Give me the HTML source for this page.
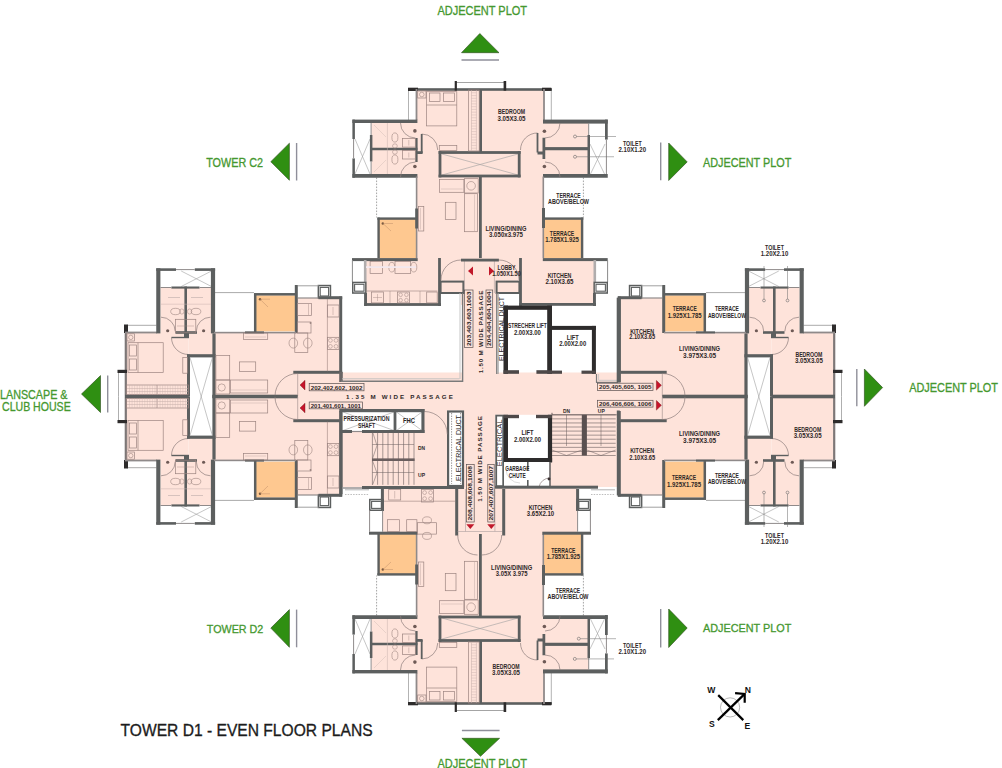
<!DOCTYPE html>
<html><head><meta charset="utf-8"><style>
html,body{margin:0;padding:0;background:#fff;}
svg{display:block;font-family:"Liberation Sans",sans-serif;}
</style></head><body>
<svg width="1002" height="768" viewBox="0 0 1002 768">
<rect width="1002" height="768" fill="#ffffff"/>
<rect x="297.00" y="372.50" width="366.00" height="47.50" fill="#fee3da" />
<rect x="463.00" y="293.00" width="34.00" height="89.00" fill="#fee3da" />
<rect x="341.00" y="410.00" width="123.00" height="77.00" fill="#fee3da" />
<rect x="464.00" y="410.00" width="40.00" height="77.00" fill="#fee3da" />
<rect x="504.00" y="414.80" width="114.00" height="72.20" fill="#fee3da" />
<defs><g id="tw">
<rect x="416.00" y="89.00" width="128.00" height="64.00" fill="#fee3da" />
<rect x="371.50" y="123.00" width="44.50" height="52.50" fill="#fee3da" />
<rect x="544.00" y="123.00" width="44.50" height="52.50" fill="#fee3da" />
<rect x="416.00" y="153.00" width="128.00" height="106.60" fill="#fee3da" />
<rect x="378.00" y="218.50" width="38.00" height="41.10" fill="#fec890" />
<rect x="543.00" y="218.50" width="39.00" height="41.10" fill="#fec890" />
<line x1="408.50" y1="89.00" x2="408.50" y2="120.00" stroke="#a0a0a0" stroke-width="0.8" />
<line x1="551.30" y1="89.00" x2="551.30" y2="120.00" stroke="#a0a0a0" stroke-width="0.8" />
<line x1="355.00" y1="139.00" x2="370.00" y2="174.00" stroke="#a0a0a0" stroke-width="0.6" />
<line x1="355.00" y1="174.00" x2="370.00" y2="139.00" stroke="#a0a0a0" stroke-width="0.6" />
<line x1="590.00" y1="144.00" x2="605.00" y2="175.00" stroke="#a0a0a0" stroke-width="0.6" />
<line x1="590.00" y1="175.00" x2="605.00" y2="144.00" stroke="#a0a0a0" stroke-width="0.6" />
<line x1="442.00" y1="154.00" x2="518.00" y2="175.00" stroke="#a0a0a0" stroke-width="0.6" />
<line x1="442.00" y1="175.00" x2="518.00" y2="154.00" stroke="#a0a0a0" stroke-width="0.6" />
<line x1="456.00" y1="82.50" x2="504.00" y2="82.50" stroke="#9a9a9a" stroke-width="0.9" />
<line x1="376.60" y1="177.50" x2="376.60" y2="217.50" stroke="#666" stroke-width="0.6" stroke-dasharray="1.6,1.4"/>
<line x1="583.40" y1="177.50" x2="583.40" y2="217.50" stroke="#666" stroke-width="0.6" stroke-dasharray="1.6,1.4"/>
<rect x="408.00" y="88.20" width="144.00" height="2.60" fill="#5c5f5f" />
<rect x="408.00" y="87.70" width="10.00" height="3.30" fill="#2e2c2c" />
<rect x="542.00" y="87.70" width="9.30" height="3.20" fill="#2e2c2c" />
<rect x="454.70" y="81.00" width="2.20" height="9.70" fill="#2e2c2c" />
<rect x="503.60" y="81.00" width="2.60" height="9.70" fill="#2e2c2c" />
<rect x="415.60" y="89.00" width="1.80" height="31.00" fill="#8f8a8a" />
<rect x="543.10" y="89.00" width="1.80" height="31.00" fill="#8f8a8a" />
<rect x="479.20" y="89.00" width="2.80" height="64.00" fill="#5c5f5f" />
<rect x="352.40" y="119.60" width="65.00" height="3.40" fill="#5c5f5f" />
<rect x="352.40" y="119.60" width="2.50" height="19.40" fill="#5c5f5f" />
<rect x="352.40" y="158.40" width="2.50" height="19.35" fill="#5c5f5f" />
<line x1="353.60" y1="139.00" x2="353.60" y2="158.40" stroke="#8f8a8a" stroke-width="1" />
<rect x="369.90" y="135.00" width="2.50" height="26.50" fill="#5c5f5f" />
<line x1="371.10" y1="123.00" x2="371.10" y2="135.00" stroke="#8f8a8a" stroke-width="1" />
<line x1="371.10" y1="161.50" x2="371.10" y2="174.00" stroke="#8f8a8a" stroke-width="1" />
<rect x="372.00" y="147.75" width="45.40" height="2.50" fill="#5c5f5f" />
<rect x="352.40" y="174.00" width="65.00" height="3.75" fill="#5c5f5f" />
<rect x="415.30" y="138.00" width="2.30" height="24.00" fill="#5c5f5f" />
<line x1="387.40" y1="123.00" x2="387.40" y2="174.00" stroke="#c9b3af" stroke-width="0.5" />
<ellipse cx="394.90" cy="137.50" rx="3.00" ry="4.60" fill="none" stroke="#9c8480" stroke-width="0.6"/>
<ellipse cx="394.90" cy="159.50" rx="3.00" ry="4.60" fill="none" stroke="#9c8480" stroke-width="0.6"/>
<ellipse cx="394.90" cy="146.00" rx="2.40" ry="2.20" fill="none" stroke="#9c8480" stroke-width="0.5"/>
<ellipse cx="394.90" cy="152.00" rx="2.40" ry="2.20" fill="none" stroke="#9c8480" stroke-width="0.5"/>
<rect x="402.40" y="138.40" width="12.90" height="8.70" fill="none" stroke="#9c8480" stroke-width="0.7"/>
<rect x="402.40" y="150.60" width="12.90" height="8.40" fill="none" stroke="#9c8480" stroke-width="0.7"/>
<line x1="408.80" y1="140.00" x2="408.80" y2="145.50" stroke="#9c8480" stroke-width="0.4" />
<line x1="408.80" y1="152.50" x2="408.80" y2="157.50" stroke="#9c8480" stroke-width="0.4" />
<path d="M400.5,123 A15,15 0 0 0 415.5,138" fill="none" stroke="#8c7d7b" stroke-width="0.7" />
<path d="M400.5,177 A15,15 0 0 1 415.5,162" fill="none" stroke="#8c7d7b" stroke-width="0.7" />
<circle cx="414.90" cy="130.90" r="1.80" fill="#6e5a56"/>
<circle cx="414.90" cy="166.50" r="1.80" fill="#6e5a56"/>
<line x1="374.00" y1="125.00" x2="386.00" y2="137.00" stroke="#cbb5b1" stroke-width="0.4" />
<line x1="374.00" y1="172.00" x2="386.00" y2="160.00" stroke="#cbb5b1" stroke-width="0.4" />
<rect x="543.00" y="119.60" width="64.75" height="4.00" fill="#5c5f5f" />
<rect x="605.00" y="119.60" width="2.75" height="20.00" fill="#5c5f5f" />
<line x1="606.40" y1="139.60" x2="606.40" y2="174.00" stroke="#8f8a8a" stroke-width="1" />
<rect x="587.50" y="135.00" width="2.50" height="39.00" fill="#5c5f5f" />
<line x1="588.70" y1="123.00" x2="588.70" y2="135.00" stroke="#8f8a8a" stroke-width="1" />
<rect x="545.00" y="147.10" width="45.00" height="3.15" fill="#5c5f5f" />
<rect x="543.00" y="174.00" width="64.75" height="3.75" fill="#5c5f5f" />
<rect x="542.50" y="137.75" width="2.75" height="21.25" fill="#5c5f5f" />
<path d="M560,123 A15,15 0 0 1 545,138" fill="none" stroke="#8c7d7b" stroke-width="0.7" />
<path d="M560,177 A15,15 0 0 0 545,162" fill="none" stroke="#8c7d7b" stroke-width="0.7" />
<circle cx="544.40" cy="131.25" r="1.80" fill="#6e5a56"/>
<circle cx="544.40" cy="166.50" r="1.80" fill="#6e5a56"/>
<path d="M421.75,134 A16,16 0 0 1 437.75,150" fill="none" stroke="#8c7d7b" stroke-width="0.7" />
<rect x="420.80" y="134.00" width="1.80" height="19.00" fill="#5c5f5f" />
<rect x="417.00" y="151.20" width="5.60" height="2.80" fill="#5c5f5f" />
<path d="M537.5,133 A17,17 0 0 0 520.5,150" fill="none" stroke="#8c7d7b" stroke-width="0.7" />
<rect x="536.60" y="133.00" width="1.80" height="19.50" fill="#5c5f5f" />
<rect x="537.50" y="151.50" width="7.50" height="3.00" fill="#5c5f5f" />
<rect x="438.60" y="151.10" width="82.00" height="2.80" fill="#5c5f5f" />
<rect x="438.60" y="174.60" width="82.00" height="2.80" fill="#5c5f5f" />
<rect x="438.60" y="151.00" width="2.80" height="26.40" fill="#5c5f5f" />
<rect x="517.80" y="151.00" width="2.80" height="26.40" fill="#5c5f5f" />
<rect x="479.00" y="176.50" width="2.80" height="83.10" fill="#5c5f5f" />
<rect x="415.80" y="176.50" width="1.60" height="83.10" fill="#8f8a8a" />
<rect x="542.50" y="176.50" width="1.60" height="83.10" fill="#8f8a8a" />
<rect x="415.20" y="208.50" width="2.80" height="20.00" fill="#5c5f5f" />
<rect x="542.00" y="208.00" width="3.00" height="20.00" fill="#5c5f5f" />
<rect x="377.40" y="217.60" width="2.40" height="42.00" fill="#5c5f5f" />
<rect x="377.40" y="217.40" width="39.60" height="2.40" fill="#5c5f5f" />
<rect x="580.90" y="217.60" width="2.40" height="42.00" fill="#5c5f5f" />
<rect x="543.00" y="217.40" width="40.30" height="2.40" fill="#5c5f5f" />
<circle cx="382.80" cy="223.50" r="1.20" fill="#7a5a40"/>
<line x1="383.00" y1="223.50" x2="393.00" y2="223.50" stroke="#b08060" stroke-width="0.4" />
<line x1="383.00" y1="223.50" x2="391.00" y2="231.00" stroke="#b08060" stroke-width="0.4" />
<rect x="417.70" y="91.00" width="8.30" height="7.00" fill="none" stroke="#9c8480" stroke-width="0.7"/>
<circle cx="421.80" cy="94.50" r="2.30" fill="none" stroke="#9c8480" stroke-width="0.6"/>
<rect x="426.50" y="91.70" width="30.30" height="34.20" fill="none" stroke="#9c8480" stroke-width="0.7"/>
<line x1="426.50" y1="105.00" x2="456.80" y2="105.00" stroke="#9c8480" stroke-width="0.7" />
<rect x="429.60" y="93.00" width="10.40" height="8.50" fill="none" stroke="#9c8480" stroke-width="0.7"/>
<rect x="443.50" y="93.00" width="10.90" height="8.50" fill="none" stroke="#9c8480" stroke-width="0.7"/>
<rect x="468.40" y="90.00" width="10.80" height="61.00" fill="none" stroke="#9c8480" stroke-width="0.7"/>
<line x1="471.50" y1="90.00" x2="471.50" y2="150.50" stroke="#c4aca8" stroke-width="0.5" />
<line x1="476.40" y1="90.00" x2="476.40" y2="150.50" stroke="#c4aca8" stroke-width="0.5" />
<line x1="471.50" y1="92.77" x2="476.40" y2="92.77" stroke="#c4aca8" stroke-width="0.4" />
<line x1="471.50" y1="95.55" x2="476.40" y2="95.55" stroke="#c4aca8" stroke-width="0.4" />
<line x1="471.50" y1="98.32" x2="476.40" y2="98.32" stroke="#c4aca8" stroke-width="0.4" />
<line x1="471.50" y1="101.09" x2="476.40" y2="101.09" stroke="#c4aca8" stroke-width="0.4" />
<line x1="471.50" y1="103.86" x2="476.40" y2="103.86" stroke="#c4aca8" stroke-width="0.4" />
<line x1="471.50" y1="106.64" x2="476.40" y2="106.64" stroke="#c4aca8" stroke-width="0.4" />
<line x1="471.50" y1="109.41" x2="476.40" y2="109.41" stroke="#c4aca8" stroke-width="0.4" />
<line x1="471.50" y1="112.18" x2="476.40" y2="112.18" stroke="#c4aca8" stroke-width="0.4" />
<line x1="471.50" y1="114.95" x2="476.40" y2="114.95" stroke="#c4aca8" stroke-width="0.4" />
<line x1="471.50" y1="117.73" x2="476.40" y2="117.73" stroke="#c4aca8" stroke-width="0.4" />
<line x1="471.50" y1="120.50" x2="476.40" y2="120.50" stroke="#c4aca8" stroke-width="0.4" />
<line x1="471.50" y1="123.27" x2="476.40" y2="123.27" stroke="#c4aca8" stroke-width="0.4" />
<line x1="471.50" y1="126.05" x2="476.40" y2="126.05" stroke="#c4aca8" stroke-width="0.4" />
<line x1="471.50" y1="128.82" x2="476.40" y2="128.82" stroke="#c4aca8" stroke-width="0.4" />
<line x1="471.50" y1="131.59" x2="476.40" y2="131.59" stroke="#c4aca8" stroke-width="0.4" />
<line x1="471.50" y1="134.36" x2="476.40" y2="134.36" stroke="#c4aca8" stroke-width="0.4" />
<line x1="471.50" y1="137.14" x2="476.40" y2="137.14" stroke="#c4aca8" stroke-width="0.4" />
<line x1="471.50" y1="139.91" x2="476.40" y2="139.91" stroke="#c4aca8" stroke-width="0.4" />
<line x1="471.50" y1="142.68" x2="476.40" y2="142.68" stroke="#c4aca8" stroke-width="0.4" />
<line x1="471.50" y1="145.45" x2="476.40" y2="145.45" stroke="#c4aca8" stroke-width="0.4" />
<line x1="471.50" y1="148.23" x2="476.40" y2="148.23" stroke="#c4aca8" stroke-width="0.4" />
<rect x="439.30" y="145.50" width="17.50" height="4.90" fill="none" stroke="#9c8480" stroke-width="0.7"/>
<rect x="439.60" y="179.40" width="24.30" height="12.90" fill="none" stroke="#9c8480" stroke-width="0.7"/>
<line x1="441.00" y1="189.00" x2="462.50" y2="189.00" stroke="#c4aca8" stroke-width="0.5" />
<rect x="464.60" y="178.70" width="13.60" height="14.30" fill="none" stroke="#9c8480" stroke-width="0.7"/>
<circle cx="471.10" cy="185.80" r="4.30" fill="none" stroke="#9c8480" stroke-width="0.6"/>
<rect x="464.60" y="193.70" width="12.90" height="38.00" fill="none" stroke="#9c8480" stroke-width="0.7"/>
<line x1="474.50" y1="194.50" x2="474.50" y2="231.00" stroke="#c4aca8" stroke-width="0.5" />
<rect x="445.30" y="202.30" width="10.70" height="17.20" fill="none" stroke="#9c8480" stroke-width="0.7"/>
<rect x="418.60" y="206.60" width="5.20" height="24.40" fill="none" stroke="#9c8480" stroke-width="0.7"/>
<line x1="420.50" y1="208.00" x2="420.50" y2="229.50" stroke="#c4aca8" stroke-width="0.5" />
</g></defs>
<use href="#tw"/><use href="#tw" transform="translate(0,793) scale(1,-1)"/>
<circle cx="575.00" cy="136.50" r="1.50" fill="none" stroke="#6a6a6a" stroke-width="0.6"/>
<line x1="576.50" y1="136.50" x2="616.00" y2="136.50" stroke="#6a6a6a" stroke-width="0.5" />
<circle cx="575.00" cy="156.75" r="1.50" fill="none" stroke="#6a6a6a" stroke-width="0.6"/>
<line x1="576.50" y1="156.75" x2="614.00" y2="156.75" stroke="#6a6a6a" stroke-width="0.5" />
<circle cx="578.80" cy="638.70" r="1.50" fill="none" stroke="#6a6a6a" stroke-width="0.6"/>
<line x1="580.30" y1="638.70" x2="616.00" y2="638.70" stroke="#6a6a6a" stroke-width="0.5" />
<circle cx="574.80" cy="658.90" r="1.50" fill="none" stroke="#6a6a6a" stroke-width="0.6"/>
<line x1="576.30" y1="658.90" x2="614.00" y2="658.90" stroke="#6a6a6a" stroke-width="0.5" />
<rect x="365.00" y="258.00" width="75.00" height="46.50" fill="#fee3da" />
<rect x="440.00" y="258.00" width="24.00" height="35.00" fill="#fee3da" />
<rect x="461.00" y="258.00" width="37.00" height="47.00" fill="#fee3da" />
<rect x="496.00" y="258.00" width="24.00" height="35.00" fill="#fee3da" />
<rect x="520.00" y="258.00" width="75.00" height="46.50" fill="#fee3da" />
<rect x="352.00" y="258.10" width="65.70" height="3.00" fill="#5c5f5f" />
<rect x="542.80" y="258.10" width="64.90" height="3.00" fill="#5c5f5f" />
<line x1="352.40" y1="260.00" x2="352.40" y2="282.00" stroke="#8a8a8a" stroke-width="1.0" />
<rect x="363.90" y="260.00" width="2.60" height="22.00" fill="#b0adad" />
<rect x="352.75" y="282.45" width="13.10" height="10.60" fill="none" stroke="#5c5f5f" stroke-width="1.5"/>
<rect x="354.60" y="284.30" width="9.40" height="6.90" fill="none" stroke="#5c5f5f" stroke-width="1.1"/>
<rect x="364.30" y="293.00" width="2.60" height="13.00" fill="#5c5f5f" />
<rect x="364.30" y="293.00" width="2.60" height="13.00" fill="#5c5f5f" />
<rect x="364.30" y="303.10" width="76.70" height="2.80" fill="#5c5f5f" />
<rect x="438.10" y="258.00" width="2.80" height="48.00" fill="#5c5f5f" />
<rect x="440.60" y="281.60" width="22.80" height="11.40" fill="none" stroke="#5c5f5f" stroke-width="2.0"/>
<line x1="464.40" y1="261.00" x2="464.40" y2="293.00" stroke="#b8a8a6" stroke-width="0.7" />
<line x1="494.40" y1="261.00" x2="494.40" y2="293.00" stroke="#b8a8a6" stroke-width="0.7" />
<rect x="461.00" y="258.70" width="37.90" height="2.80" fill="#5c5f5f" />
<path d="M441,280 A20,20 0 0 1 461,260" fill="none" stroke="#8c7d7b" stroke-width="0.7" />
<path d="M519,280 A20,20 0 0 0 499,260" fill="none" stroke="#8c7d7b" stroke-width="0.7" />
<line x1="607.60" y1="260.00" x2="607.60" y2="282.00" stroke="#8a8a8a" stroke-width="1.0" />
<rect x="593.50" y="260.00" width="2.60" height="22.00" fill="#b0adad" />
<rect x="594.15" y="282.45" width="13.10" height="10.60" fill="none" stroke="#5c5f5f" stroke-width="1.5"/>
<rect x="596.00" y="284.30" width="9.40" height="6.90" fill="none" stroke="#5c5f5f" stroke-width="1.1"/>
<rect x="593.10" y="293.00" width="2.60" height="13.00" fill="#5c5f5f" />
<rect x="593.10" y="293.00" width="2.60" height="13.00" fill="#5c5f5f" />
<rect x="519.00" y="303.00" width="77.00" height="2.80" fill="#5c5f5f" />
<rect x="519.10" y="258.00" width="2.80" height="48.00" fill="#5c5f5f" />
<rect x="496.60" y="281.60" width="22.80" height="11.40" fill="none" stroke="#5c5f5f" stroke-width="2.0"/>
<rect x="370.10" y="261.50" width="12.30" height="12.00" fill="none" stroke="#9c8480" stroke-width="0.7"/>
<line x1="371.00" y1="267.00" x2="381.50" y2="267.00" stroke="#c4aca8" stroke-width="0.4" />
<rect x="395.00" y="261.50" width="15.70" height="12.00" fill="none" stroke="#9c8480" stroke-width="0.7"/>
<ellipse cx="391.80" cy="267.20" rx="3.00" ry="4.80" fill="none" stroke="#9c8480" stroke-width="0.6"/>
<ellipse cx="413.80" cy="267.20" rx="3.00" ry="4.80" fill="none" stroke="#9c8480" stroke-width="0.6"/>
<rect x="366.00" y="266.20" width="50.00" height="1.80" fill="#f3e8ee" />
<line x1="366.50" y1="291.00" x2="437.50" y2="291.00" stroke="#9c8480" stroke-width="0.6" />
<rect x="371.50" y="292.00" width="11.90" height="10.90" fill="none" stroke="#9c8480" stroke-width="0.7"/>
<line x1="377.50" y1="294.00" x2="377.50" y2="301.00" stroke="#9c8480" stroke-width="0.4" />
<line x1="373.00" y1="297.50" x2="382.00" y2="297.50" stroke="#9c8480" stroke-width="0.4" />
<rect x="397.40" y="292.00" width="12.20" height="10.90" fill="none" stroke="#9c8480" stroke-width="0.7"/>
<circle cx="400.60" cy="294.80" r="1.80" fill="none" stroke="#9c8480" stroke-width="0.5"/>
<circle cx="406.40" cy="294.80" r="1.80" fill="none" stroke="#9c8480" stroke-width="0.5"/>
<circle cx="400.60" cy="300.20" r="1.80" fill="none" stroke="#9c8480" stroke-width="0.5"/>
<circle cx="406.40" cy="300.20" r="1.80" fill="none" stroke="#9c8480" stroke-width="0.5"/>
<rect x="426.70" y="292.00" width="10.50" height="10.90" fill="none" stroke="#9c8480" stroke-width="0.7"/>
<line x1="390.00" y1="291.00" x2="390.00" y2="303.00" stroke="#9c8480" stroke-width="0.5" />
<line x1="420.00" y1="291.00" x2="420.00" y2="303.00" stroke="#9c8480" stroke-width="0.5" />
<rect x="383.00" y="488.00" width="74.00" height="46.00" fill="#fee3da" />
<rect x="457.00" y="485.00" width="46.00" height="49.00" fill="#fee3da" />
<rect x="503.00" y="488.00" width="74.00" height="46.00" fill="#fee3da" />
<rect x="380.90" y="489.00" width="3.00" height="21.70" fill="#5c5f5f" />
<rect x="369.75" y="499.55" width="13.50" height="10.70" fill="none" stroke="#5c5f5f" stroke-width="1.5"/>
<rect x="371.60" y="501.40" width="9.80" height="7.00" fill="none" stroke="#5c5f5f" stroke-width="1.1"/>
<line x1="369.60" y1="510.20" x2="369.60" y2="531.70" stroke="#8f8a8a" stroke-width="1" />
<line x1="382.60" y1="510.70" x2="382.60" y2="531.70" stroke="#8f8a8a" stroke-width="1" />
<rect x="369.00" y="531.70" width="48.50" height="3.00" fill="#5c5f5f" />
<line x1="345.00" y1="489.80" x2="369.00" y2="489.80" stroke="#a0a0a0" stroke-width="0.8" />
<line x1="345.00" y1="494.50" x2="369.00" y2="494.50" stroke="#a0a0a0" stroke-width="0.7" stroke-dasharray="1.5,1.2"/>
<rect x="455.20" y="489.00" width="3.00" height="46.50" fill="#5c5f5f" />
<rect x="502.20" y="489.00" width="3.00" height="46.50" fill="#5c5f5f" />
<rect x="576.10" y="489.00" width="3.00" height="21.70" fill="#5c5f5f" />
<rect x="576.95" y="499.55" width="13.30" height="10.70" fill="none" stroke="#5c5f5f" stroke-width="1.5"/>
<rect x="578.80" y="501.40" width="9.60" height="7.00" fill="none" stroke="#5c5f5f" stroke-width="1.1"/>
<line x1="590.40" y1="510.20" x2="590.40" y2="531.70" stroke="#8f8a8a" stroke-width="1" />
<line x1="577.60" y1="510.70" x2="577.60" y2="531.70" stroke="#8f8a8a" stroke-width="1" />
<rect x="542.30" y="531.70" width="48.70" height="3.00" fill="#5c5f5f" />
<line x1="591.00" y1="489.80" x2="615.00" y2="489.80" stroke="#a0a0a0" stroke-width="0.8" />
<line x1="591.00" y1="494.50" x2="615.00" y2="494.50" stroke="#a0a0a0" stroke-width="0.7" stroke-dasharray="1.5,1.2"/>
<line x1="465.50" y1="489.00" x2="465.50" y2="531.50" stroke="#b8a8a6" stroke-width="0.7" />
<line x1="494.90" y1="489.00" x2="494.90" y2="531.50" stroke="#b8a8a6" stroke-width="0.7" />
<line x1="457.70" y1="531.50" x2="502.00" y2="531.50" stroke="#b8a8a6" stroke-width="0.7" />
<path d="M457.7,535 A20,20 0 0 0 477.5,555" fill="none" stroke="#8c7d7b" stroke-width="0.7" />
<path d="M501.7,535 A20,20 0 0 1 481.7,555" fill="none" stroke="#8c7d7b" stroke-width="0.7" />
<line x1="384.00" y1="501.20" x2="455.00" y2="501.20" stroke="#9c8480" stroke-width="0.6" />
<rect x="388.70" y="489.50" width="12.00" height="10.50" fill="none" stroke="#9c8480" stroke-width="0.7"/>
<line x1="394.70" y1="491.00" x2="394.70" y2="498.50" stroke="#9c8480" stroke-width="0.4" />
<rect x="421.60" y="489.50" width="12.00" height="12.50" fill="none" stroke="#9c8480" stroke-width="0.7"/>
<circle cx="424.60" cy="492.60" r="1.90" fill="none" stroke="#9c8480" stroke-width="0.5"/>
<circle cx="430.60" cy="492.60" r="1.90" fill="none" stroke="#9c8480" stroke-width="0.5"/>
<circle cx="424.60" cy="498.60" r="1.90" fill="none" stroke="#9c8480" stroke-width="0.5"/>
<circle cx="430.60" cy="498.60" r="1.90" fill="none" stroke="#9c8480" stroke-width="0.5"/>
<rect x="387.50" y="519.70" width="12.00" height="12.00" fill="none" stroke="#9c8480" stroke-width="0.7"/>
<rect x="406.70" y="519.70" width="10.20" height="12.00" fill="none" stroke="#9c8480" stroke-width="0.7"/>
<rect x="417.50" y="522.70" width="19.10" height="11.40" fill="none" stroke="#9c8480" stroke-width="0.7"/>
<ellipse cx="427.00" cy="520.30" rx="4.50" ry="3.50" fill="none" stroke="#9c8480" stroke-width="0.6"/>
<ellipse cx="427.00" cy="535.90" rx="4.50" ry="3.50" fill="none" stroke="#9c8480" stroke-width="0.6"/>
<rect x="605.00" y="615.00" width="2.75" height="20.00" fill="#5c5f5f" />
<defs><g id="lws">
<rect x="125.60" y="332.50" width="62.90" height="64.00" fill="#fee3da" />
<rect x="188.50" y="332.50" width="25.50" height="23.50" fill="#fee3da" />
<rect x="160.40" y="288.00" width="50.60" height="45.00" fill="#fee3da" />
<rect x="214.00" y="333.00" width="127.00" height="63.50" fill="#fee3da" />
<rect x="296.00" y="298.00" width="45.00" height="74.50" fill="#fee3da" />
<rect x="256.00" y="295.40" width="39.00" height="36.00" fill="#fec890" />
<line x1="181.20" y1="271.00" x2="211.50" y2="286.50" stroke="#a0a0a0" stroke-width="0.6" />
<line x1="181.20" y1="286.50" x2="211.50" y2="271.00" stroke="#a0a0a0" stroke-width="0.6" />
<line x1="118.50" y1="371.00" x2="118.50" y2="396.50" stroke="#9a9a9a" stroke-width="0.8" />
<line x1="127.00" y1="325.30" x2="156.50" y2="325.30" stroke="#a0a0a0" stroke-width="0.9" />
<line x1="215.00" y1="292.60" x2="254.00" y2="292.60" stroke="#a0a0a0" stroke-width="0.9" />
<rect x="124.70" y="333.00" width="2.20" height="63.50" fill="#7d7777" />
<rect x="124.00" y="324.50" width="4.00" height="8.50" fill="#2e2c2c" />
<rect x="117.50" y="369.80" width="9.50" height="3.20" fill="#2e2c2c" />
<rect x="125.00" y="331.60" width="32.00" height="1.80" fill="#8f8a8a" />
<rect x="156.25" y="268.30" width="4.15" height="65.10" fill="#5c5f5f" />
<rect x="210.90" y="268.30" width="4.20" height="65.10" fill="#5c5f5f" />
<rect x="156.25" y="268.30" width="19.75" height="2.60" fill="#5c5f5f" />
<rect x="194.80" y="268.30" width="20.30" height="2.60" fill="#5c5f5f" />
<line x1="176.00" y1="269.60" x2="194.80" y2="269.60" stroke="#8f8a8a" stroke-width="1" />
<rect x="171.40" y="286.50" width="28.10" height="2.10" fill="#5c5f5f" />
<line x1="160.40" y1="287.50" x2="171.40" y2="287.50" stroke="#8f8a8a" stroke-width="1" />
<line x1="199.50" y1="287.50" x2="211.00" y2="287.50" stroke="#8f8a8a" stroke-width="1" />
<rect x="184.40" y="286.50" width="2.60" height="46.50" fill="#5c5f5f" />
<rect x="175.50" y="331.20" width="21.50" height="2.60" fill="#5c5f5f" />
<path d="M161,317.2 A14.2,14.2 0 0 1 175.2,331.4" fill="none" stroke="#8c7d7b" stroke-width="0.7" />
<path d="M210.5,317.2 A14.2,14.2 0 0 0 196.3,331.4" fill="none" stroke="#8c7d7b" stroke-width="0.7" />
<circle cx="167.70" cy="330.75" r="1.60" fill="#6e5a56"/>
<circle cx="203.60" cy="330.75" r="1.60" fill="#6e5a56"/>
<rect x="184.00" y="333.00" width="5.00" height="4.50" fill="#5c5f5f" />
<path d="M171.5,337.5 A17,17 0 0 0 188.5,354.5" fill="none" stroke="#8c7d7b" stroke-width="0.7" />
<line x1="171.50" y1="337.50" x2="189.00" y2="337.50" stroke="#5c5f5f" stroke-width="1.4" />
<rect x="187.00" y="354.50" width="3.00" height="42.00" fill="#5c5f5f" />
<rect x="212.40" y="333.40" width="3.20" height="63.10" fill="#5c5f5f" />
<rect x="187.00" y="354.20" width="28.60" height="3.20" fill="#5c5f5f" />
<rect x="253.95" y="293.60" width="2.50" height="38.40" fill="#5c5f5f" />
<rect x="254.00" y="293.05" width="42.50" height="2.50" fill="#5c5f5f" />
<rect x="294.80" y="285.00" width="3.00" height="48.00" fill="#5c5f5f" />
<rect x="318.35" y="285.55" width="12.10" height="12.30" fill="none" stroke="#5c5f5f" stroke-width="1.5"/>
<rect x="320.20" y="287.40" width="8.40" height="8.60" fill="none" stroke="#5c5f5f" stroke-width="1.1"/>
<line x1="298.00" y1="285.80" x2="318.60" y2="285.80" stroke="#a0a0a0" stroke-width="1.0" />
<line x1="298.00" y1="298.00" x2="318.60" y2="298.00" stroke="#8f8a8a" stroke-width="1.2" />
<rect x="318.50" y="296.20" width="23.70" height="3.00" fill="#5c5f5f" />
<rect x="339.20" y="296.50" width="3.00" height="76.00" fill="#5c5f5f" />
<rect x="293.30" y="370.80" width="48.90" height="3.00" fill="#5c5f5f" />
<rect x="339.20" y="372.00" width="3.60" height="10.00" fill="#6a6666" />
<rect x="125.00" y="394.70" width="63.50" height="3.00" fill="#5c5f5f" />
<rect x="212.40" y="394.70" width="85.30" height="3.00" fill="#5c5f5f" />
<rect x="214.00" y="331.80" width="82.00" height="1.60" fill="#8f8a8a" />
<rect x="245.00" y="331.40" width="19.00" height="2.00" fill="#5c5f5f" />
<path d="M297.7,373.5 A22.7,22.7 0 0 0 275,396.2" fill="none" stroke="#8c7d7b" stroke-width="0.7" />
<line x1="297.70" y1="374.00" x2="297.70" y2="396.20" stroke="#9a8a88" stroke-width="0.6" />
</g>
<g id="lwf">
<rect x="127.00" y="333.80" width="7.50" height="7.20" fill="none" stroke="#9c8480" stroke-width="0.7"/>
<circle cx="130.80" cy="337.40" r="2.20" fill="none" stroke="#9c8480" stroke-width="0.6"/>
<rect x="128.00" y="342.70" width="35.20" height="29.80" fill="none" stroke="#9c8480" stroke-width="0.7"/>
<line x1="138.00" y1="342.70" x2="138.00" y2="372.50" stroke="#9c8480" stroke-width="0.7" />
<rect x="129.50" y="345.00" width="7.00" height="11.00" fill="none" stroke="#9c8480" stroke-width="0.7"/>
<rect x="129.50" y="359.00" width="7.00" height="11.00" fill="none" stroke="#9c8480" stroke-width="0.7"/>
<rect x="126.50" y="385.00" width="62.00" height="9.60" fill="none" stroke="#9c8480" stroke-width="0.7"/>
<line x1="157.00" y1="385.00" x2="157.00" y2="394.60" stroke="#9c8480" stroke-width="0.6" />
<line x1="127.00" y1="388.50" x2="188.00" y2="388.50" stroke="#c4aca8" stroke-width="0.5" />
<line x1="127.00" y1="391.50" x2="188.00" y2="391.50" stroke="#c4aca8" stroke-width="0.5" />
<line x1="129.54" y1="385.00" x2="129.54" y2="394.60" stroke="#c9b3af" stroke-width="0.4" />
<line x1="132.08" y1="385.00" x2="132.08" y2="394.60" stroke="#c9b3af" stroke-width="0.4" />
<line x1="134.62" y1="385.00" x2="134.62" y2="394.60" stroke="#c9b3af" stroke-width="0.4" />
<line x1="137.17" y1="385.00" x2="137.17" y2="394.60" stroke="#c9b3af" stroke-width="0.4" />
<line x1="139.71" y1="385.00" x2="139.71" y2="394.60" stroke="#c9b3af" stroke-width="0.4" />
<line x1="142.25" y1="385.00" x2="142.25" y2="394.60" stroke="#c9b3af" stroke-width="0.4" />
<line x1="144.79" y1="385.00" x2="144.79" y2="394.60" stroke="#c9b3af" stroke-width="0.4" />
<line x1="147.33" y1="385.00" x2="147.33" y2="394.60" stroke="#c9b3af" stroke-width="0.4" />
<line x1="149.88" y1="385.00" x2="149.88" y2="394.60" stroke="#c9b3af" stroke-width="0.4" />
<line x1="152.42" y1="385.00" x2="152.42" y2="394.60" stroke="#c9b3af" stroke-width="0.4" />
<line x1="154.96" y1="385.00" x2="154.96" y2="394.60" stroke="#c9b3af" stroke-width="0.4" />
<line x1="157.50" y1="385.00" x2="157.50" y2="394.60" stroke="#c9b3af" stroke-width="0.4" />
<line x1="160.04" y1="385.00" x2="160.04" y2="394.60" stroke="#c9b3af" stroke-width="0.4" />
<line x1="162.58" y1="385.00" x2="162.58" y2="394.60" stroke="#c9b3af" stroke-width="0.4" />
<line x1="165.12" y1="385.00" x2="165.12" y2="394.60" stroke="#c9b3af" stroke-width="0.4" />
<line x1="167.67" y1="385.00" x2="167.67" y2="394.60" stroke="#c9b3af" stroke-width="0.4" />
<line x1="170.21" y1="385.00" x2="170.21" y2="394.60" stroke="#c9b3af" stroke-width="0.4" />
<line x1="172.75" y1="385.00" x2="172.75" y2="394.60" stroke="#c9b3af" stroke-width="0.4" />
<line x1="175.29" y1="385.00" x2="175.29" y2="394.60" stroke="#c9b3af" stroke-width="0.4" />
<line x1="177.83" y1="385.00" x2="177.83" y2="394.60" stroke="#c9b3af" stroke-width="0.4" />
<line x1="180.38" y1="385.00" x2="180.38" y2="394.60" stroke="#c9b3af" stroke-width="0.4" />
<line x1="182.92" y1="385.00" x2="182.92" y2="394.60" stroke="#c9b3af" stroke-width="0.4" />
<line x1="185.46" y1="385.00" x2="185.46" y2="394.60" stroke="#c9b3af" stroke-width="0.4" />
<rect x="182.80" y="357.50" width="4.60" height="15.70" fill="none" stroke="#9c8480" stroke-width="0.7"/>
<rect x="215.90" y="355.40" width="13.80" height="24.60" fill="none" stroke="#9c8480" stroke-width="0.7"/>
<rect x="215.90" y="380.00" width="13.80" height="14.00" fill="none" stroke="#9c8480" stroke-width="0.7"/>
<circle cx="221.70" cy="387.50" r="3.60" fill="none" stroke="#9c8480" stroke-width="0.6"/>
<rect x="230.40" y="380.00" width="37.30" height="13.00" fill="none" stroke="#9c8480" stroke-width="0.7"/>
<line x1="230.40" y1="390.00" x2="267.70" y2="390.00" stroke="#c4aca8" stroke-width="0.5" />
<rect x="239.40" y="361.90" width="16.30" height="9.70" fill="none" stroke="#9c8480" stroke-width="0.7"/>
<rect x="243.40" y="333.00" width="24.30" height="6.50" fill="none" stroke="#9c8480" stroke-width="0.7"/>
<line x1="245.00" y1="337.00" x2="266.00" y2="337.00" stroke="#c4aca8" stroke-width="0.5" />
<rect x="294.80" y="333.00" width="13.00" height="19.50" fill="none" stroke="#9c8480" stroke-width="0.7"/>
<ellipse cx="293.30" cy="343.10" rx="4.30" ry="5.00" fill="none" stroke="#9c8480" stroke-width="0.6"/>
<ellipse cx="307.80" cy="343.10" rx="4.30" ry="5.00" fill="none" stroke="#9c8480" stroke-width="0.6"/>
<line x1="327.40" y1="299.00" x2="327.40" y2="371.30" stroke="#9c8480" stroke-width="0.6" />
<rect x="327.40" y="337.30" width="11.60" height="12.30" fill="none" stroke="#9c8480" stroke-width="0.7"/>
<circle cx="330.40" cy="340.40" r="1.90" fill="none" stroke="#9c8480" stroke-width="0.5"/>
<circle cx="336.00" cy="340.40" r="1.90" fill="none" stroke="#9c8480" stroke-width="0.5"/>
<circle cx="330.40" cy="346.40" r="1.90" fill="none" stroke="#9c8480" stroke-width="0.5"/>
<circle cx="336.00" cy="346.40" r="1.90" fill="none" stroke="#9c8480" stroke-width="0.5"/>
<rect x="327.40" y="305.00" width="11.60" height="12.00" fill="none" stroke="#9c8480" stroke-width="0.7"/>
<line x1="333.00" y1="307.00" x2="333.00" y2="315.00" stroke="#9c8480" stroke-width="0.4" />
<rect x="297.50" y="303.50" width="14.00" height="12.00" fill="none" stroke="#9c8480" stroke-width="0.7"/>
<line x1="308.50" y1="304.00" x2="308.50" y2="315.00" stroke="#9c8480" stroke-width="0.4" />
<rect x="297.50" y="322.00" width="13.50" height="11.00" fill="none" stroke="#9c8480" stroke-width="0.7"/>
<circle cx="310.50" cy="323.00" r="0.90" fill="#9c8480"/>
<ellipse cx="175.50" cy="311.50" rx="4.80" ry="3.20" fill="none" stroke="#9c8480" stroke-width="0.6"/>
<ellipse cx="196.00" cy="311.50" rx="4.80" ry="3.20" fill="none" stroke="#9c8480" stroke-width="0.6"/>
<ellipse cx="181.80" cy="311.50" rx="2.20" ry="2.60" fill="none" stroke="#9c8480" stroke-width="0.5"/>
<ellipse cx="189.60" cy="311.50" rx="2.20" ry="2.60" fill="none" stroke="#9c8480" stroke-width="0.5"/>
<rect x="175.50" y="319.30" width="20.30" height="13.50" fill="none" stroke="#9c8480" stroke-width="0.7"/>
<line x1="177.00" y1="326.00" x2="194.00" y2="326.00" stroke="#9c8480" stroke-width="0.4" />
<line x1="160.40" y1="304.20" x2="211.00" y2="304.20" stroke="#c9b3af" stroke-width="0.5" />
<line x1="168.00" y1="297.50" x2="180.00" y2="297.50" stroke="#b0a0a0" stroke-width="0.5" />
<line x1="191.00" y1="297.50" x2="203.00" y2="297.50" stroke="#b0a0a0" stroke-width="0.5" />
<circle cx="260.00" cy="299.20" r="1.20" fill="#7a5a40"/>
<line x1="260.00" y1="299.20" x2="270.00" y2="299.20" stroke="#b08060" stroke-width="0.4" />
<line x1="260.00" y1="299.20" x2="268.00" y2="307.00" stroke="#b08060" stroke-width="0.4" />
</g></defs>
<use href="#lws"/><use href="#lws" transform="translate(0,793) scale(1,-1)"/>
<use href="#lws" transform="translate(960,0) scale(-1,1)"/><use href="#lws" transform="translate(960,793) scale(-1,-1)"/>
<use href="#lwf"/><use href="#lwf" transform="translate(0,793) scale(1,-1)"/>
<line x1="190.00" y1="357.50" x2="212.40" y2="435.50" stroke="#a0a0a0" stroke-width="0.6" />
<line x1="190.00" y1="435.50" x2="212.40" y2="357.50" stroke="#a0a0a0" stroke-width="0.6" />
<line x1="747.60" y1="357.50" x2="770.00" y2="435.50" stroke="#a0a0a0" stroke-width="0.6" />
<line x1="747.60" y1="435.50" x2="770.00" y2="357.50" stroke="#a0a0a0" stroke-width="0.6" />
<circle cx="764.00" cy="300.50" r="1.40" fill="none" stroke="#6a6a6a" stroke-width="0.6"/>
<line x1="764.00" y1="299.10" x2="764.00" y2="266.00" stroke="#6a6a6a" stroke-width="0.5" />
<circle cx="787.50" cy="300.50" r="1.40" fill="none" stroke="#6a6a6a" stroke-width="0.6"/>
<line x1="787.50" y1="299.10" x2="787.50" y2="266.00" stroke="#6a6a6a" stroke-width="0.5" />
<circle cx="764.00" cy="492.50" r="1.40" fill="none" stroke="#6a6a6a" stroke-width="0.6"/>
<line x1="764.00" y1="493.90" x2="764.00" y2="527.00" stroke="#6a6a6a" stroke-width="0.5" />
<circle cx="787.50" cy="492.50" r="1.40" fill="none" stroke="#6a6a6a" stroke-width="0.6"/>
<line x1="787.50" y1="493.90" x2="787.50" y2="527.00" stroke="#6a6a6a" stroke-width="0.5" />
<line x1="341.00" y1="381.30" x2="462.50" y2="381.30" stroke="#7a7a7a" stroke-width="1.4" />
<line x1="342.00" y1="378.80" x2="459.50" y2="378.80" stroke="#c0c0c0" stroke-width="0.9" />
<line x1="462.60" y1="293.00" x2="462.60" y2="382.00" stroke="#7a7a7a" stroke-width="1.4" />
<line x1="460.00" y1="293.00" x2="460.00" y2="379.00" stroke="#c0c0c0" stroke-width="0.9" />
<rect x="496.10" y="293.00" width="1.40" height="81.00" fill="#7a7a7a" />
<line x1="498.30" y1="293.00" x2="498.30" y2="374.00" stroke="#9a9a9a" stroke-width="0.8" />
<rect x="503.50" y="305.60" width="4.50" height="68.20" fill="#2e2c2c" />
<rect x="503.50" y="305.60" width="48.50" height="4.20" fill="#2e2c2c" />
<rect x="547.20" y="305.60" width="4.80" height="68.20" fill="#2e2c2c" />
<rect x="503.50" y="370.20" width="15.50" height="3.60" fill="#4d4848" />
<rect x="536.40" y="370.20" width="15.60" height="3.60" fill="#4d4848" />
<rect x="552.00" y="325.90" width="43.90" height="4.00" fill="#2e2c2c" />
<rect x="591.90" y="325.90" width="4.00" height="47.90" fill="#2e2c2c" />
<rect x="552.00" y="370.60" width="10.00" height="3.20" fill="#4d4848" />
<rect x="581.50" y="370.60" width="14.40" height="3.20" fill="#4d4848" />
<line x1="596.50" y1="374.00" x2="596.50" y2="382.60" stroke="#7a7a7a" stroke-width="1.2" />
<line x1="596.00" y1="382.40" x2="618.00" y2="382.40" stroke="#7a7a7a" stroke-width="1.2" />
<line x1="598.60" y1="374.00" x2="598.60" y2="380.30" stroke="#c0c0c0" stroke-width="0.8" />
<line x1="598.60" y1="380.30" x2="617.00" y2="380.30" stroke="#c0c0c0" stroke-width="0.8" />
<rect x="616.70" y="297.70" width="3.90" height="84.90" fill="#5c5f5f" />
<rect x="341.00" y="410.00" width="82.30" height="21.40" fill="#ffffff" />
<line x1="343.00" y1="412.00" x2="394.00" y2="430.50" stroke="#a0a0a0" stroke-width="0.6" />
<line x1="343.00" y1="430.50" x2="394.00" y2="412.00" stroke="#a0a0a0" stroke-width="0.6" />
<line x1="396.50" y1="412.00" x2="422.00" y2="430.50" stroke="#a0a0a0" stroke-width="0.6" />
<line x1="396.50" y1="430.50" x2="422.00" y2="412.00" stroke="#a0a0a0" stroke-width="0.6" />
<rect x="339.50" y="409.00" width="85.00" height="3.20" fill="#5c5f5f" />
<rect x="339.50" y="409.00" width="3.10" height="85.20" fill="#5c5f5f" />
<rect x="393.60" y="410.00" width="2.80" height="21.40" fill="#5c5f5f" />
<rect x="421.40" y="409.00" width="3.10" height="24.00" fill="#5c5f5f" />
<rect x="362.00" y="430.00" width="62.50" height="3.00" fill="#5c5f5f" />
<rect x="342.00" y="430.00" width="10.00" height="3.00" fill="#5c5f5f" />
<line x1="352.00" y1="431.50" x2="362.00" y2="431.50" stroke="#8f8a8a" stroke-width="1.2" />
<line x1="372.40" y1="431.40" x2="372.40" y2="484.80" stroke="#6a5e5e" stroke-width="0.6" />
<line x1="377.60" y1="431.40" x2="377.60" y2="484.80" stroke="#6a5e5e" stroke-width="0.6" />
<line x1="382.80" y1="431.40" x2="382.80" y2="484.80" stroke="#6a5e5e" stroke-width="0.6" />
<line x1="388.00" y1="431.40" x2="388.00" y2="484.80" stroke="#6a5e5e" stroke-width="0.6" />
<line x1="393.20" y1="431.40" x2="393.20" y2="484.80" stroke="#6a5e5e" stroke-width="0.6" />
<line x1="398.40" y1="431.40" x2="398.40" y2="484.80" stroke="#6a5e5e" stroke-width="0.6" />
<line x1="403.60" y1="431.40" x2="403.60" y2="484.80" stroke="#6a5e5e" stroke-width="0.6" />
<line x1="408.80" y1="431.40" x2="408.80" y2="484.80" stroke="#6a5e5e" stroke-width="0.6" />
<line x1="414.00" y1="431.40" x2="414.00" y2="484.80" stroke="#6a5e5e" stroke-width="0.6" />
<line x1="372.40" y1="444.50" x2="414.00" y2="444.50" stroke="#6a5e5e" stroke-width="0.5" />
<line x1="372.40" y1="472.50" x2="414.00" y2="472.50" stroke="#6a5e5e" stroke-width="0.5" />
<rect x="372.00" y="458.40" width="42.60" height="2.60" fill="#6a5e5e" />
<path d="M372.6,432 L377,445.5 L372.6,458.4 M372.6,461 L377,473 L372.6,484.8" fill="none" stroke="#6a5e5e" stroke-width="0.5" />
<rect x="362.00" y="486.00" width="102.00" height="3.00" fill="#5c5f5f" />
<line x1="343.00" y1="488.00" x2="362.00" y2="488.00" stroke="#8f8a8a" stroke-width="1.4" />
<rect x="447.00" y="410.50" width="17.00" height="76.50" fill="#ffffff" />
<rect x="448.10" y="411.50" width="14.90" height="74.50" fill="none" stroke="#5c5f5f" stroke-width="2.2"/>
<path d="M424.5,411.5 A23,23 0 0 1 447.3,434.3" fill="none" stroke="#8c7d7b" stroke-width="0.7" />
<rect x="495.30" y="414.80" width="8.70" height="72.20" fill="#ffffff" />
<rect x="496.20" y="415.60" width="7.00" height="70.60" fill="none" stroke="#5c5f5f" stroke-width="1.8"/>
<rect x="504.00" y="414.80" width="48.00" height="47.50" fill="#ffffff" />
<rect x="503.80" y="414.80" width="4.20" height="47.50" fill="#2e2c2c" />
<rect x="547.90" y="414.80" width="4.20" height="47.50" fill="#2e2c2c" />
<rect x="503.80" y="458.00" width="48.30" height="4.30" fill="#2e2c2c" />
<rect x="503.80" y="414.80" width="15.20" height="3.40" fill="#4d4848" />
<rect x="536.00" y="414.80" width="16.10" height="3.40" fill="#4d4848" />
<rect x="504.00" y="462.00" width="46.00" height="25.00" fill="#ffffff" />
<line x1="527.80" y1="462.00" x2="527.80" y2="470.00" stroke="#5c5f5f" stroke-width="1.6" />
<line x1="527.80" y1="480.00" x2="527.80" y2="487.00" stroke="#5c5f5f" stroke-width="1.6" />
<rect x="549.20" y="462.00" width="1.60" height="25.00" fill="#6a6666" />
<path d="M550,478 A11,11 0 0 0 539,487" fill="none" stroke="#8c7d7b" stroke-width="0.7" />
<circle cx="549.00" cy="479.00" r="1.40" fill="#3a3030"/>
<path d="M506,469 A14,14 0 0 0 520,483" fill="none" stroke="#bbb" stroke-width="0.5" />
<line x1="552.00" y1="414.80" x2="615.70" y2="414.80" stroke="#6a5e5e" stroke-width="0.6" />
<line x1="552.00" y1="418.87" x2="615.70" y2="418.87" stroke="#6a5e5e" stroke-width="0.6" />
<line x1="552.00" y1="422.94" x2="615.70" y2="422.94" stroke="#6a5e5e" stroke-width="0.6" />
<line x1="552.00" y1="427.01" x2="615.70" y2="427.01" stroke="#6a5e5e" stroke-width="0.6" />
<line x1="552.00" y1="431.08" x2="615.70" y2="431.08" stroke="#6a5e5e" stroke-width="0.6" />
<line x1="552.00" y1="435.15" x2="615.70" y2="435.15" stroke="#6a5e5e" stroke-width="0.6" />
<line x1="552.00" y1="439.22" x2="615.70" y2="439.22" stroke="#6a5e5e" stroke-width="0.6" />
<line x1="552.00" y1="443.29" x2="615.70" y2="443.29" stroke="#6a5e5e" stroke-width="0.6" />
<line x1="552.00" y1="447.36" x2="615.70" y2="447.36" stroke="#6a5e5e" stroke-width="0.6" />
<line x1="552.00" y1="451.43" x2="615.70" y2="451.43" stroke="#6a5e5e" stroke-width="0.6" />
<line x1="552.00" y1="455.50" x2="615.70" y2="455.50" stroke="#6a5e5e" stroke-width="0.6" />
<line x1="566.50" y1="414.80" x2="566.50" y2="446.00" stroke="#6a5e5e" stroke-width="0.5" />
<line x1="601.00" y1="414.80" x2="601.00" y2="446.00" stroke="#6a5e5e" stroke-width="0.5" />
<rect x="581.80" y="414.80" width="5.10" height="40.70" fill="#5a5050" />
<path d="M552,450 L566.5,455.5 L581.8,450 M586.9,450 L601,455.5 L615.7,450" fill="none" stroke="#6a5e5e" stroke-width="0.5" />
<rect x="616.80" y="410.50" width="3.00" height="84.90" fill="#5c5f5f" />
<rect x="551.50" y="412.80" width="1.00" height="2.00" fill="#6a5e5e" />
<line x1="552.00" y1="414.80" x2="616.80" y2="414.80" stroke="#6a5e5e" stroke-width="0.8" />
<rect x="495.00" y="485.70" width="103.00" height="3.00" fill="#5c5f5f" />
<text x="511.50" y="114.20" font-size="6.6" fill="#2e2828" text-anchor="middle" textLength="27.0" lengthAdjust="spacingAndGlyphs" font-weight="bold">BEDROOM</text>
<text x="511.50" y="120.60" font-size="6.6" fill="#2e2828" text-anchor="middle" textLength="28.0" lengthAdjust="spacingAndGlyphs" font-weight="bold">3.05X3.05</text>
<text x="568.50" y="198.40" font-size="6.6" fill="#2e2828" text-anchor="middle" textLength="24.3" lengthAdjust="spacingAndGlyphs" font-weight="bold">TERRACE</text>
<text x="568.50" y="204.20" font-size="6.6" fill="#2e2828" text-anchor="middle" textLength="41.0" lengthAdjust="spacingAndGlyphs" font-weight="bold">ABOVE/BELOW</text>
<text x="506.00" y="231.00" font-size="6.6" fill="#2e2828" text-anchor="middle" textLength="41.0" lengthAdjust="spacingAndGlyphs" font-weight="bold">LIVING/DINING</text>
<text x="506.00" y="237.00" font-size="6.6" fill="#2e2828" text-anchor="middle" textLength="34.0" lengthAdjust="spacingAndGlyphs" font-weight="bold">3.050x3.975</text>
<text x="562.00" y="236.00" font-size="6.6" fill="#2e2828" text-anchor="middle" textLength="24.4" lengthAdjust="spacingAndGlyphs" font-weight="bold">TERRACE</text>
<text x="562.00" y="242.40" font-size="6.6" fill="#2e2828" text-anchor="middle" textLength="33.7" lengthAdjust="spacingAndGlyphs" font-weight="bold">1.785X1.925</text>
<text x="506.50" y="269.60" font-size="6.6" fill="#2e2828" text-anchor="middle" textLength="18.0" lengthAdjust="spacingAndGlyphs" font-weight="bold">LOBBY</text>
<text x="506.50" y="276.00" font-size="6.6" fill="#2e2828" text-anchor="middle" textLength="28.6" lengthAdjust="spacingAndGlyphs" font-weight="bold">1.050X1.50</text>
<text x="559.50" y="278.40" font-size="6.6" fill="#2e2828" text-anchor="middle" textLength="23.7" lengthAdjust="spacingAndGlyphs" font-weight="bold">KITCHEN</text>
<text x="559.50" y="284.40" font-size="6.6" fill="#2e2828" text-anchor="middle" textLength="28.0" lengthAdjust="spacingAndGlyphs" font-weight="bold">2.10X3.65</text>
<text x="632.30" y="146.00" font-size="6.6" fill="#2e2828" text-anchor="middle" textLength="18.6" lengthAdjust="spacingAndGlyphs" font-weight="bold">TOILET</text>
<text x="632.30" y="151.90" font-size="6.6" fill="#2e2828" text-anchor="middle" textLength="27.6" lengthAdjust="spacingAndGlyphs" font-weight="bold">2.10X1.20</text>
<text x="540.50" y="509.60" font-size="6.6" fill="#2e2828" text-anchor="middle" textLength="23.7" lengthAdjust="spacingAndGlyphs" font-weight="bold">KITCHEN</text>
<text x="540.50" y="515.50" font-size="6.6" fill="#2e2828" text-anchor="middle" textLength="27.4" lengthAdjust="spacingAndGlyphs" font-weight="bold">3.65X2.10</text>
<text x="563.30" y="552.90" font-size="6.6" fill="#2e2828" text-anchor="middle" textLength="24.2" lengthAdjust="spacingAndGlyphs" font-weight="bold">TERRACE</text>
<text x="563.30" y="558.80" font-size="6.6" fill="#2e2828" text-anchor="middle" textLength="33.3" lengthAdjust="spacingAndGlyphs" font-weight="bold">1.785X1.925</text>
<text x="511.70" y="569.70" font-size="6.6" fill="#2e2828" text-anchor="middle" textLength="41.2" lengthAdjust="spacingAndGlyphs" font-weight="bold">LIVING/DINING</text>
<text x="511.70" y="575.90" font-size="6.6" fill="#2e2828" text-anchor="middle" textLength="31.8" lengthAdjust="spacingAndGlyphs" font-weight="bold">3.05X 3.975</text>
<text x="568.00" y="593.00" font-size="6.6" fill="#2e2828" text-anchor="middle" textLength="24.3" lengthAdjust="spacingAndGlyphs" font-weight="bold">TERRACE</text>
<text x="568.00" y="599.00" font-size="6.6" fill="#2e2828" text-anchor="middle" textLength="41.0" lengthAdjust="spacingAndGlyphs" font-weight="bold">ABOVE/BELOW</text>
<text x="506.00" y="668.50" font-size="6.6" fill="#2e2828" text-anchor="middle" textLength="27.0" lengthAdjust="spacingAndGlyphs" font-weight="bold">BEDROOM</text>
<text x="506.00" y="674.50" font-size="6.6" fill="#2e2828" text-anchor="middle" textLength="28.0" lengthAdjust="spacingAndGlyphs" font-weight="bold">3.05X3.05</text>
<text x="632.30" y="647.50" font-size="6.6" fill="#2e2828" text-anchor="middle" textLength="18.6" lengthAdjust="spacingAndGlyphs" font-weight="bold">TOILET</text>
<text x="632.30" y="654.10" font-size="6.6" fill="#2e2828" text-anchor="middle" textLength="27.6" lengthAdjust="spacingAndGlyphs" font-weight="bold">2.10X1.20</text>
<text x="774.50" y="249.75" font-size="6.6" fill="#2e2828" text-anchor="middle" textLength="18.8" lengthAdjust="spacingAndGlyphs" font-weight="bold">TOILET</text>
<text x="774.50" y="255.75" font-size="6.6" fill="#2e2828" text-anchor="middle" textLength="27.5" lengthAdjust="spacingAndGlyphs" font-weight="bold">1.20X2.10</text>
<text x="774.50" y="537.75" font-size="6.6" fill="#2e2828" text-anchor="middle" textLength="18.8" lengthAdjust="spacingAndGlyphs" font-weight="bold">TOILET</text>
<text x="774.50" y="544.00" font-size="6.6" fill="#2e2828" text-anchor="middle" textLength="27.5" lengthAdjust="spacingAndGlyphs" font-weight="bold">1.20X2.10</text>
<text x="684.70" y="310.80" font-size="6.6" fill="#2e2828" text-anchor="middle" textLength="24.0" lengthAdjust="spacingAndGlyphs" font-weight="bold">TERRACE</text>
<text x="684.70" y="317.50" font-size="6.6" fill="#2e2828" text-anchor="middle" textLength="34.0" lengthAdjust="spacingAndGlyphs" font-weight="bold">1.925X1.785</text>
<text x="726.90" y="310.80" font-size="6.6" fill="#2e2828" text-anchor="middle" textLength="24.0" lengthAdjust="spacingAndGlyphs" font-weight="bold">TERRACE</text>
<text x="726.90" y="317.50" font-size="6.6" fill="#2e2828" text-anchor="middle" textLength="38.0" lengthAdjust="spacingAndGlyphs" font-weight="bold">ABOVE/BELOW</text>
<text x="642.20" y="333.50" font-size="6.6" fill="#2e2828" text-anchor="middle" textLength="24.0" lengthAdjust="spacingAndGlyphs" font-weight="bold">KITCHEN</text>
<text x="642.20" y="338.50" font-size="6.6" fill="#2e2828" text-anchor="middle" textLength="26.0" lengthAdjust="spacingAndGlyphs" font-weight="bold">2.10X3.65</text>
<text x="699.60" y="350.50" font-size="6.6" fill="#2e2828" text-anchor="middle" textLength="41.0" lengthAdjust="spacingAndGlyphs" font-weight="bold">LIVING/DINING</text>
<text x="699.60" y="357.50" font-size="6.6" fill="#2e2828" text-anchor="middle" textLength="33.0" lengthAdjust="spacingAndGlyphs" font-weight="bold">3.975X3.05</text>
<text x="808.90" y="356.50" font-size="6.6" fill="#2e2828" text-anchor="middle" textLength="27.0" lengthAdjust="spacingAndGlyphs" font-weight="bold">BEDROOM</text>
<text x="808.90" y="363.00" font-size="6.6" fill="#2e2828" text-anchor="middle" textLength="28.0" lengthAdjust="spacingAndGlyphs" font-weight="bold">3.05X3.05</text>
<text x="699.60" y="435.50" font-size="6.6" fill="#2e2828" text-anchor="middle" textLength="41.0" lengthAdjust="spacingAndGlyphs" font-weight="bold">LIVING/DINING</text>
<text x="699.60" y="442.50" font-size="6.6" fill="#2e2828" text-anchor="middle" textLength="33.0" lengthAdjust="spacingAndGlyphs" font-weight="bold">3.975X3.05</text>
<text x="807.70" y="431.50" font-size="6.6" fill="#2e2828" text-anchor="middle" textLength="27.0" lengthAdjust="spacingAndGlyphs" font-weight="bold">BEDROOM</text>
<text x="807.70" y="438.00" font-size="6.6" fill="#2e2828" text-anchor="middle" textLength="28.0" lengthAdjust="spacingAndGlyphs" font-weight="bold">3.05X3.05</text>
<text x="642.20" y="453.00" font-size="6.6" fill="#2e2828" text-anchor="middle" textLength="24.0" lengthAdjust="spacingAndGlyphs" font-weight="bold">KITCHEN</text>
<text x="642.20" y="459.50" font-size="6.6" fill="#2e2828" text-anchor="middle" textLength="26.0" lengthAdjust="spacingAndGlyphs" font-weight="bold">2.10X3.65</text>
<text x="684.00" y="479.50" font-size="6.6" fill="#2e2828" text-anchor="middle" textLength="24.0" lengthAdjust="spacingAndGlyphs" font-weight="bold">TERRACE</text>
<text x="684.00" y="487.00" font-size="6.6" fill="#2e2828" text-anchor="middle" textLength="34.0" lengthAdjust="spacingAndGlyphs" font-weight="bold">1.925X1.785</text>
<text x="726.90" y="477.50" font-size="6.6" fill="#2e2828" text-anchor="middle" textLength="24.0" lengthAdjust="spacingAndGlyphs" font-weight="bold">TERRACE</text>
<text x="726.90" y="484.00" font-size="6.6" fill="#2e2828" text-anchor="middle" textLength="38.0" lengthAdjust="spacingAndGlyphs" font-weight="bold">ABOVE/BELOW</text>
<text x="527.40" y="328.30" font-size="6.6" fill="#2e2828" text-anchor="middle" textLength="39.0" lengthAdjust="spacingAndGlyphs" font-weight="bold">STRECHER LIFT</text>
<text x="527.40" y="334.50" font-size="6.6" fill="#2e2828" text-anchor="middle" textLength="27.0" lengthAdjust="spacingAndGlyphs" font-weight="bold">2.00X3.00</text>
<text x="572.70" y="339.50" font-size="6.6" fill="#2e2828" text-anchor="middle" textLength="12.0" lengthAdjust="spacingAndGlyphs" font-weight="bold">LIFT</text>
<text x="572.70" y="345.90" font-size="6.6" fill="#2e2828" text-anchor="middle" textLength="27.0" lengthAdjust="spacingAndGlyphs" font-weight="bold">2.00X2.00</text>
<text x="527.50" y="435.10" font-size="6.6" fill="#2e2828" text-anchor="middle" textLength="12.0" lengthAdjust="spacingAndGlyphs" font-weight="bold">LIFT</text>
<text x="527.50" y="441.90" font-size="6.6" fill="#2e2828" text-anchor="middle" textLength="27.0" lengthAdjust="spacingAndGlyphs" font-weight="bold">2.00X2.00</text>
<text x="517.30" y="470.70" font-size="6.6" fill="#2e2828" text-anchor="middle" textLength="24.0" lengthAdjust="spacingAndGlyphs" font-weight="bold">GARBAGE</text>
<text x="517.30" y="478.40" font-size="6.6" fill="#2e2828" text-anchor="middle" textLength="17.0" lengthAdjust="spacingAndGlyphs" font-weight="bold">CHUTE</text>
<text x="366.50" y="420.70" font-size="6.6" fill="#2e2828" text-anchor="middle" textLength="46.0" lengthAdjust="spacingAndGlyphs" font-weight="bold">PRESSURIZATION</text>
<text x="366.50" y="428.00" font-size="6.6" fill="#2e2828" text-anchor="middle" textLength="17.0" lengthAdjust="spacingAndGlyphs" font-weight="bold">SHAFT</text>
<text x="408.90" y="422.90" font-size="6.4" fill="#2e2828" text-anchor="middle" textLength="12.0" lengthAdjust="spacingAndGlyphs" font-weight="bold">FHC</text>
<text x="421.50" y="450.00" font-size="6.2" fill="#2e2828" text-anchor="middle" textLength="7.0" lengthAdjust="spacingAndGlyphs" font-weight="bold">DN</text>
<text x="421.50" y="477.00" font-size="6.2" fill="#2e2828" text-anchor="middle" textLength="7.0" lengthAdjust="spacingAndGlyphs" font-weight="bold">UP</text>
<text x="566.50" y="413.00" font-size="6.2" fill="#2e2828" text-anchor="middle" textLength="7.0" lengthAdjust="spacingAndGlyphs" font-weight="bold">DN</text>
<text x="601.30" y="413.00" font-size="6.2" fill="#2e2828" text-anchor="middle" textLength="7.0" lengthAdjust="spacingAndGlyphs" font-weight="bold">UP</text>
<text x="400.50" y="399.20" font-size="6.2" fill="#2e2828" text-anchor="middle" letter-spacing="2.14" font-weight="bold">1.35 M WIDE PASSAGE</text>
<text x="0" y="0" font-size="6.2" fill="#2e2828" text-anchor="middle" letter-spacing="0.79" font-weight="bold" transform="translate(480.9,331.5) rotate(-90)" dominant-baseline="central">1.50 M WIDE PASSAGE</text>
<text x="0" y="0" font-size="6.2" fill="#2e2828" text-anchor="middle" letter-spacing="0.97" font-weight="bold" transform="translate(479.7,458.4) rotate(-90)" dominant-baseline="central">1.50 M WIDE PASSAGE</text>
<text x="0" y="0" font-size="6.4" fill="#2e2828" text-anchor="middle" textLength="64" lengthAdjust="spacingAndGlyphs" transform="translate(501.2,329) rotate(-90)" dominant-baseline="central">ELECTRICAL DUCT</text>
<text x="0" y="0" font-size="6.8" fill="#2e2828" text-anchor="middle" textLength="66" lengthAdjust="spacingAndGlyphs" transform="translate(458.6,448) rotate(-90)" dominant-baseline="central">ELECTRICAL DUCT</text>
<line x1="451.60" y1="413.00" x2="451.60" y2="484.00" stroke="#6a6666" stroke-width="0.7" stroke-dasharray="1.4,1.2"/>
<line x1="460.60" y1="413.00" x2="460.60" y2="484.00" stroke="#6a6666" stroke-width="0.7" stroke-dasharray="1.4,1.2"/>
<text x="0" y="0" font-size="6.4" fill="#2e2828" text-anchor="middle" textLength="47" lengthAdjust="spacingAndGlyphs" transform="translate(499.8,443) rotate(-90)" dominant-baseline="central">ELECTRICAL</text>
<rect x="309.20" y="383.60" width="54.80" height="7.20" fill="none" stroke="#5a5050" stroke-width="0.7"/>
<text x="336.60" y="389.80" font-size="6.2" fill="#2e2828" text-anchor="middle" textLength="51.8" lengthAdjust="spacingAndGlyphs" font-weight="bold">202,402,602, 1002</text>
<rect x="309.20" y="402.00" width="53.20" height="6.80" fill="none" stroke="#5a5050" stroke-width="0.7"/>
<text x="335.80" y="407.80" font-size="6.2" fill="#2e2828" text-anchor="middle" textLength="50.2" lengthAdjust="spacingAndGlyphs" font-weight="bold">201,401,601, 1001</text>
<rect x="597.60" y="383.20" width="55.40" height="7.20" fill="none" stroke="#5a5050" stroke-width="0.7"/>
<text x="625.30" y="389.40" font-size="6.2" fill="#2e2828" text-anchor="middle" textLength="52.4" lengthAdjust="spacingAndGlyphs" font-weight="bold">205,405,605, 1005</text>
<rect x="597.60" y="400.30" width="55.40" height="6.80" fill="none" stroke="#5a5050" stroke-width="0.7"/>
<text x="625.30" y="406.10" font-size="6.2" fill="#2e2828" text-anchor="middle" textLength="52.4" lengthAdjust="spacingAndGlyphs" font-weight="bold">206,406,606, 1006</text>
<rect x="464.50" y="290.00" width="8.50" height="57.50" fill="none" stroke="#5a5050" stroke-width="0.7"/>
<text x="0" y="0" font-size="6.0" fill="#2e2828" text-anchor="middle" textLength="54.5" lengthAdjust="spacingAndGlyphs" transform="translate(468.75,318.75) rotate(-90)" dominant-baseline="central" font-weight="bold">203,403,603,1003</text>
<rect x="486.00" y="290.00" width="6.70" height="57.50" fill="none" stroke="#5a5050" stroke-width="0.7"/>
<text x="0" y="0" font-size="6.0" fill="#2e2828" text-anchor="middle" textLength="54.5" lengthAdjust="spacingAndGlyphs" transform="translate(489.35,318.75) rotate(-90)" dominant-baseline="central" font-weight="bold">204,404,604,1004</text>
<rect x="466.60" y="464.50" width="7.60" height="57.50" fill="none" stroke="#5a5050" stroke-width="0.7"/>
<text x="0" y="0" font-size="6.0" fill="#2e2828" text-anchor="middle" textLength="54.5" lengthAdjust="spacingAndGlyphs" transform="translate(470.4,493.25) rotate(-90)" dominant-baseline="central" font-weight="bold">208,408,608,1008</text>
<rect x="487.80" y="464.50" width="6.40" height="57.50" fill="none" stroke="#5a5050" stroke-width="0.7"/>
<text x="0" y="0" font-size="6.0" fill="#2e2828" text-anchor="middle" textLength="54.5" lengthAdjust="spacingAndGlyphs" transform="translate(491.0,493.25) rotate(-90)" dominant-baseline="central" font-weight="bold">207,407,607,1007</text>
<polygon points="300,385.1 305,380.3 305,389.90000000000003" fill="#c8142c" stroke="#6a1010" stroke-width="0.4"/>
<polygon points="300,408 305,403.2 305,412.8" fill="#c8142c" stroke="#6a1010" stroke-width="0.4"/>
<polygon points="661.4,385.3 656.4,380.5 656.4,390.1" fill="#c8142c" stroke="#6a1010" stroke-width="0.4"/>
<polygon points="661.4,405.3 656.4,400.5 656.4,410.1" fill="#c8142c" stroke="#6a1010" stroke-width="0.4"/>
<polygon points="466.3,524.3 474.3,524.3 470.3,529.0999999999999" fill="#c0182a"/>
<polygon points="487.3,524.3 495.3,524.3 491.3,529.0999999999999" fill="#c0182a"/>
<polygon points="468,271 473,266.5 473,275.5" fill="#c0182a"/><polygon points="494,271 489,266.5 489,275.5" fill="#c0182a"/>
<text x="482.25" y="15.20" font-size="12.07" fill="#45982f" text-anchor="middle" textLength="89.5" lengthAdjust="spacingAndGlyphs" stroke="#45982f" stroke-width="0.3">ADJECENT PLOT</text>
<polygon points="479.8,33.5 499,52.7 461.5,52.7" fill="#2f8f12" stroke="#2a4a1a" stroke-width="0.6"/>
<line x1="461.50" y1="60.00" x2="499.00" y2="60.00" stroke="#8f8f9a" stroke-width="1.4" />
<text x="234.60" y="166.50" font-size="11.93" fill="#45982f" text-anchor="middle" textLength="56.8" lengthAdjust="spacingAndGlyphs" stroke="#45982f" stroke-width="0.3">TOWER C2</text>
<polygon points="270.8,161.7 289.4,143.2 289.4,180.3" fill="#2f8f12" stroke="#2a4a1a" stroke-width="0.6"/>
<line x1="296.60" y1="143.00" x2="296.60" y2="180.50" stroke="#8f8f9a" stroke-width="1.4" />
<text x="747.15" y="167.00" font-size="12.35" fill="#45982f" text-anchor="middle" textLength="88.3" lengthAdjust="spacingAndGlyphs" stroke="#45982f" stroke-width="0.3">ADJECENT PLOT</text>
<polygon points="687.2,161.9 668.7,143 668.7,180.5" fill="#2f8f12" stroke="#2a4a1a" stroke-width="0.6"/>
<line x1="660.70" y1="142.60" x2="660.70" y2="180.30" stroke="#8f8f9a" stroke-width="1.4" />
<text x="33.75" y="398.70" font-size="12.21" fill="#45982f" text-anchor="middle" textLength="67.5" lengthAdjust="spacingAndGlyphs" stroke="#45982f" stroke-width="0.3">LANSCAPE &</text>
<text x="36.35" y="410.60" font-size="12.07" fill="#45982f" text-anchor="middle" textLength="68.7" lengthAdjust="spacingAndGlyphs" stroke="#45982f" stroke-width="0.3">CLUB HOUSE</text>
<polygon points="81.5,394 100.5,375.6 100.5,412.5" fill="#2f8f12" stroke="#2a4a1a" stroke-width="0.6"/>
<line x1="107.70" y1="375.60" x2="107.70" y2="412.50" stroke="#8f8f9a" stroke-width="1.4" />
<text x="953.60" y="391.90" font-size="12.21" fill="#45982f" text-anchor="middle" textLength="88.8" lengthAdjust="spacingAndGlyphs" stroke="#45982f" stroke-width="0.3">ADJECENT PLOT</text>
<polygon points="882.6,387.6 864.4,369 864.4,406.3" fill="#2f8f12" stroke="#2a4a1a" stroke-width="0.6"/>
<line x1="856.80" y1="369.10" x2="856.80" y2="406.30" stroke="#8f8f9a" stroke-width="1.4" />
<text x="235.05" y="632.60" font-size="11.80" fill="#45982f" text-anchor="middle" textLength="56.5" lengthAdjust="spacingAndGlyphs" stroke="#45982f" stroke-width="0.3">TOWER D2</text>
<polygon points="270.8,628.1 289.4,609.6 289.4,647.3" fill="#2f8f12" stroke="#2a4a1a" stroke-width="0.6"/>
<line x1="296.60" y1="609.60" x2="296.60" y2="647.30" stroke="#8f8f9a" stroke-width="1.4" />
<text x="747.15" y="632.10" font-size="11.39" fill="#45982f" text-anchor="middle" textLength="88.3" lengthAdjust="spacingAndGlyphs" stroke="#45982f" stroke-width="0.3">ADJECENT PLOT</text>
<polygon points="687.2,628 668.7,609 668.7,647.5" fill="#2f8f12" stroke="#2a4a1a" stroke-width="0.6"/>
<line x1="660.70" y1="609.00" x2="660.70" y2="647.50" stroke="#8f8f9a" stroke-width="1.4" />
<line x1="461.90" y1="730.50" x2="499.60" y2="730.50" stroke="#8f8f9a" stroke-width="1.4" />
<polygon points="461.9,738.3 499.6,738.3 480.5,756.3" fill="#2f8f12" stroke="#2a4a1a" stroke-width="0.6"/>
<text x="482.25" y="768.10" font-size="12.07" fill="#45982f" text-anchor="middle" textLength="89.5" lengthAdjust="spacingAndGlyphs" stroke="#45982f" stroke-width="0.3">ADJECENT PLOT</text>
<text x="246.60" y="736.30" font-size="17.3" fill="#1c1c1c" text-anchor="middle" textLength="252.0" lengthAdjust="spacingAndGlyphs" stroke="#1c1c1c" stroke-width="0.35">TOWER D1 - EVEN FLOOR PLANS</text>
<circle cx="730.1" cy="707.4" r="9.6" fill="none" stroke="#888" stroke-width="0.6"/>
<line x1="718.20" y1="695.10" x2="743.30" y2="720.10" stroke="#000" stroke-width="2.2" />
<line x1="717.80" y1="720.10" x2="744.70" y2="693.90" stroke="#000" stroke-width="2.2" />
<path d="M735.1,693.2 L744.7,693.9 L744.7,702.8" fill="none" stroke="#000" stroke-width="2.2" />
<text x="711.40" y="692.80" font-size="8.6" fill="#111" text-anchor="middle" font-weight="bold">W</text>
<text x="747.90" y="692.80" font-size="8.6" fill="#111" text-anchor="middle" font-weight="bold">N</text>
<text x="711.90" y="727.40" font-size="8.6" fill="#111" text-anchor="middle" font-weight="bold">S</text>
<text x="747.40" y="729.20" font-size="8.6" fill="#111" text-anchor="middle" font-weight="bold">E</text>
</svg></body></html>
